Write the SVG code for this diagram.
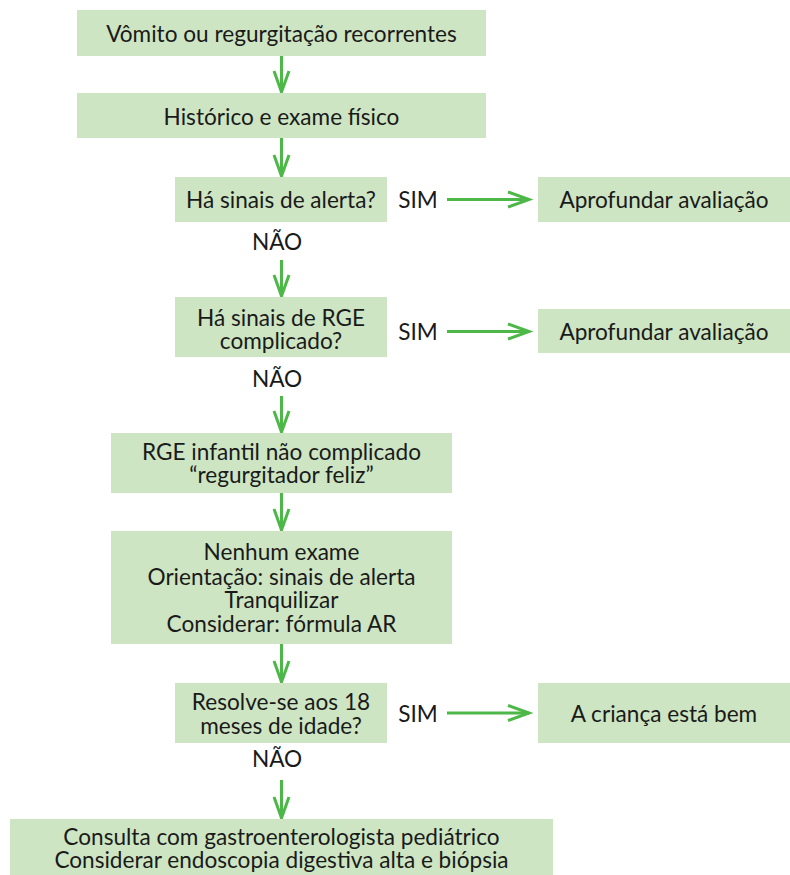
<svg xmlns="http://www.w3.org/2000/svg" width="790" height="875" viewBox="0 0 790 875">
<defs>
<style>
.box{fill:#cde5c2;}
.t{font-family:Lato,"Liberation Sans",sans-serif;font-size:22.6px;fill:#1a1a1a;text-anchor:middle;}
.c{stroke:#4db848;stroke-width:3;fill:none;marker-end:url(#ah);}
</style>
<marker id="ah" markerUnits="userSpaceOnUse" markerWidth="30" markerHeight="30" viewBox="-25 -12 30 24" refX="0" refY="0" orient="auto">
<path d="M-21,-7.5 L0,0 L-21,7.5" fill="none" stroke="#4db848" stroke-width="3"/>
</marker>
</defs>
<rect width="790" height="875" fill="#ffffff"/>
<g id="connectors">
<line class="c" x1="281.5" y1="56" x2="281.5" y2="92"/>
<line class="c" x1="281.5" y1="138" x2="281.5" y2="176"/>
<line class="c" x1="447" y1="199.5" x2="529" y2="199.5"/>
<line class="c" x1="281.5" y1="260" x2="281.5" y2="296"/>
<line class="c" x1="447" y1="331.5" x2="529" y2="331.5"/>
<line class="c" x1="281.5" y1="396" x2="281.5" y2="432"/>
<line class="c" x1="281.5" y1="493" x2="281.5" y2="530"/>
<line class="c" x1="281.5" y1="644" x2="281.5" y2="682"/>
<line class="c" x1="447" y1="713" x2="529" y2="713"/>
<line class="c" x1="281.5" y1="780" x2="281.5" y2="818"/>
</g>
<g id="n1"><rect class="box" x="77" y="10" width="409" height="46"/><text class="t" x="281.5" y="42">Vômito ou regurgitação recorrentes</text></g>
<g id="n2"><rect class="box" x="77" y="93" width="409" height="45"/><text class="t" x="281.5" y="125">Histórico e exame físico</text></g>
<g id="n3"><rect class="box" x="175" y="177" width="212" height="45"/><text class="t" x="281" y="208">Há sinais de alerta?</text></g>
<g id="l1"><text class="t" x="418" y="208">SIM</text></g>
<g id="n4"><rect class="box" x="538" y="177" width="252" height="45"/><text class="t" x="664" y="208">Aprofundar avaliação</text></g>
<g id="l2"><text class="t" x="277" y="250">NÃO</text></g>
<g id="n5"><rect class="box" x="175" y="297" width="212" height="60"/><text class="t" y="326"><tspan x="281">Há sinais de RGE</tspan><tspan x="281" dy="23">complicado?</tspan></text></g>
<g id="l3"><text class="t" x="418" y="340">SIM</text></g>
<g id="n6"><rect class="box" x="538" y="309" width="252" height="44"/><text class="t" x="664" y="340">Aprofundar avaliação</text></g>
<g id="l4"><text class="t" x="277" y="387">NÃO</text></g>
<g id="n7"><rect class="box" x="111" y="433" width="341" height="60"/><text class="t" y="460"><tspan x="281.5">RGE infantil não complicado</tspan><tspan x="281.5" dy="23">“regurgitador feliz”</tspan></text></g>
<g id="n8"><rect class="box" x="111" y="531" width="341" height="113"/><text class="t" y="560"><tspan x="281.5">Nenhum exame</tspan><tspan x="281.5" dy="25">Orientação: sinais de alerta</tspan><tspan x="281.5" dy="23">Tranquilizar</tspan><tspan x="281.5" dy="24">Considerar: fórmula AR</tspan></text></g>
<g id="n9"><rect class="box" x="175" y="683" width="212" height="60"/><text class="t" y="710"><tspan x="281">Resolve-se aos 18</tspan><tspan x="281" dy="24">meses de idade?</tspan></text></g>
<g id="l5"><text class="t" x="418" y="722">SIM</text></g>
<g id="n10"><rect class="box" x="538" y="683" width="252" height="60"/><text class="t" x="664" y="722">A criança está bem</text></g>
<g id="l6"><text class="t" x="277" y="767">NÃO</text></g>
<g id="n11"><rect class="box" x="10" y="819" width="543" height="60"/><text class="t" y="845"><tspan x="281.5">Consulta com gastroenterologista pediátrico</tspan><tspan x="281.5" dy="23">Considerar endoscopia digestiva alta e biópsia</tspan></text></g>
</svg>
